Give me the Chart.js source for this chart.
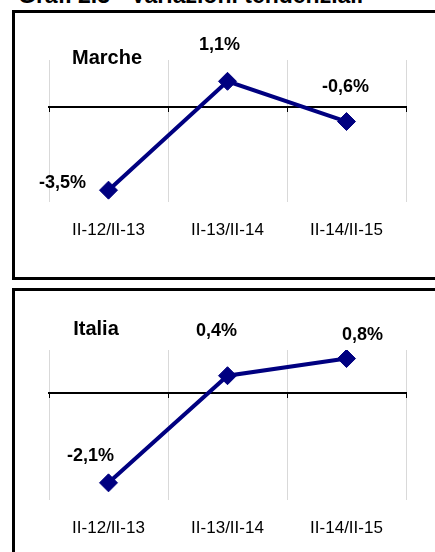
<!DOCTYPE html>
<html lang="it">
<head>
    <meta charset="UTF-8">
    <meta name="viewport" content="width=device-width, initial-scale=1.0">
    <script src="https://cdn.jsdelivr.net/npm/chart.js"></script>
    <title>Variazioni tendenziali</title>
    <style>
      body { margin: 0; background: #fff; width: 435px; height: 552px; overflow: hidden; position: relative; font-family: "Liberation Sans", Arial, sans-serif; }
      .title { position: absolute; left: 18px; top: -16px; font-size: 23px; line-height: 23px; font-weight: bold; white-space: nowrap; }
      .box { position: absolute; left: 12px; width: 430px; border: 3px solid #000; background: #fff; }
      .box canvas { display: block; }
    </style>
</head>
<body>
    <div class="title">Graf. 2.3 - Variazioni tendenziali</div>
    <div class="box" style="top:10px; height:264px;">
      <canvas id="marcheChart" width="420" height="264"></canvas>
    </div>
    <div class="box" style="top:288px; height:280px;">
      <canvas id="italiaChart" width="420" height="270"></canvas>
    </div>

    <script>
      // periods and year-on-year changes (%)
      const categories = ['II-12/II-13', 'II-13/II-14', 'II-14/II-15'];
      const marcheValues = [-3.5, 1.1, -0.6];
      const italiaValues = [-2.1, 0.4, 0.8];

      const fontFamily = '"Liberation Sans", Arial, sans-serif';
      const navy = '#000080';

      function fmt(v) {
        return v.toFixed(1).replace('.', ',') + '%';
      }

      // draws the value next to each point and the region name
      const valueLabels = {
        id: 'valueLabels',
        afterDatasetsDraw(chart, args, opts) {
          const ctx = chart.ctx;
          const meta = chart.getDatasetMeta(0);
          const vals = chart.data.datasets[0].data;
          ctx.save();
          ctx.fillStyle = '#000';
          ctx.textAlign = 'center';
          ctx.textBaseline = 'middle';
          ctx.font = 'bold 18px ' + fontFamily;
          meta.data.forEach((pt, i) => {
            const off = opts.offsets[i];
            ctx.fillText(fmt(vals[i]), pt.x + off[0], pt.y + off[1]);
          });
          ctx.font = 'bold 20px ' + fontFamily;
          ctx.fillText(opts.name, opts.nameAt[0], opts.nameAt[1]);
          ctx.restore();
        }
      };

      function makeChart(id, name, values, yMin, yMax, top, axisHeight, offsets, nameAt) {
        return new Chart(document.getElementById(id), {
          type: 'line',
          data: {
            labels: categories,
            datasets: [{
              label: name,
              data: values,
              borderColor: navy,
              backgroundColor: navy,
              borderWidth: 4,
              pointStyle: 'rectRot',
              pointRadius: 9,
              pointBorderWidth: 1,
              tension: 0
            }]
          },
          options: {
            responsive: false,
            animation: false,
            layout: { padding: { left: 34, right: 29, top: top, bottom: 0 } },
            plugins: {
              legend: { display: false },
              tooltip: { enabled: false },
              valueLabels: { name: name, offsets: offsets, nameAt: nameAt }
            },
            scales: {
              x: {
                offset: true,
                grid: { offset: true, color: '#d9d9d9', lineWidth: 1, drawTicks: false },
                border: { display: false },
                ticks: { color: '#000', padding: 18, font: { family: fontFamily, size: 17 } },
                afterFit: (s) => { s.height = axisHeight; }
              },
              x2: {
                type: 'category',
                position: { y: 0 },
                offset: true,
                grid: { offset: true, drawOnChartArea: false, drawTicks: true, tickLength: 4, color: '#000', lineWidth: 1 },
                border: { display: true, color: '#000', width: 2 },
                ticks: { display: false }
              },
              y: {
                display: false,
                min: yMin,
                max: yMax
              }
            }
          },
          plugins: [valueLabels]
        });
      }

      makeChart('marcheChart', 'Marche', marcheValues, -4, 2, 47, 75,
        [[-46, -7], [-8, -36], [-1, -35]], [92, 45]);
      makeChart('italiaChart', 'Italia', italiaValues, -2.5, 1, 59, 61,
        [[-18, -27], [-11, -45], [16, -24]], [81, 38]);
    </script>
 </body>
</html>
